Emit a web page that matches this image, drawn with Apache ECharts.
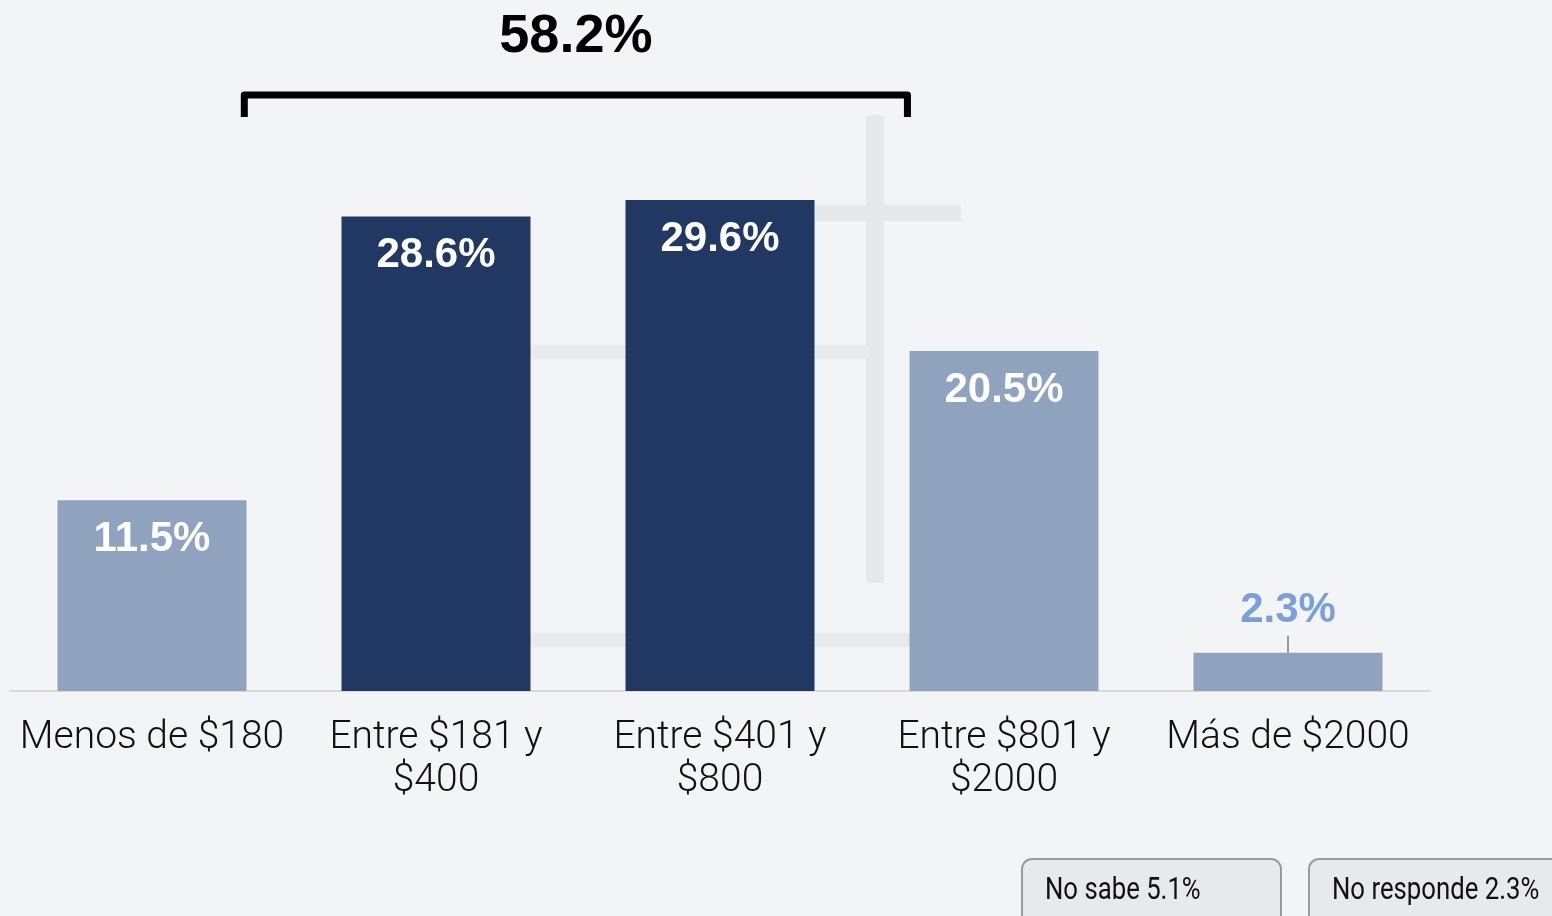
<!DOCTYPE html>
<html lang="es">
<head>
  <meta charset="UTF-8">
  <title>Ingresos</title>
  <style>
    html, body { margin: 0; padding: 0; background: #f3f4f6; }
    #main { width: 1552px; height: 916px; }
  </style>
</head>
<body>
  <div id="main"></div>
  <script src="https://cdn.jsdelivr.net/npm/echarts@6/dist/echarts.min.js"></script>
  <script>
    // datos
    var categories = ['Menos de $180', 'Entre $181 y\n$400', 'Entre $401 y\n$800', 'Entre $801 y\n$2000', 'Más de $2000'];
    var values = [11.5, 28.6, 29.6, 20.5, 2.3];
    var highlighted = [false, true, true, false, false];
    var groupTotal = 58.2;
    var otherLabels = ['No sabe', 'No responde'];
    var otherValues = [5.1, 2.3];

    var dark = '#213863';
    var light = '#8fa3bf';
    var boldFont = '"Liberation Sans", sans-serif';
    var thinFont = 'Roboto, "Noto Sans", sans-serif';

    var chart = echarts.init(document.getElementById('main'));

    var barData = values.map(function (v, i) {
      var small = v < 5;
      return {
        value: v,
        itemStyle: { color: highlighted[i] ? dark : light },
        label: small ? {
          position: 'top', distance: 21, color: '#7b9fd8'
        } : {
          position: 'insideTop', distance: 18, color: '#fff'
        }
      };
    });

    chart.setOption({
      backgroundColor: '#f3f4f6',
      animation: false,
      grid: { left: 10, right: 122, top: 200, bottom: 225 },
      xAxis: {
        type: 'category',
        data: categories,
        axisLine: { lineStyle: { color: '#d9d9d9', width: 2 } },
        axisTick: { show: false },
        axisLabel: {
          color: '#111', fontFamily: thinFont, fontWeight: 300,
          fontSize: 39, lineHeight: 43, margin: 26, interval: 0
        }
      },
      yAxis: { type: 'value', min: 0, max: 29.6, show: false, splitLine: { show: false } },
      series: [{
        type: 'bar',
        barWidth: 189,
        data: barData,
        label: {
          show: true,
          fontFamily: boldFont, fontWeight: 'bold', fontSize: 42,
          formatter: function (p) { return p.value.toFixed(1) + '%'; }
        }
      }]
    });

    // anotaciones: corchete, total y cajas inferiores
    function drawExtras() {
      var band = chart.convertToPixel({ xAxisIndex: 0 }, categories[1]) - chart.convertToPixel({ xAxisIndex: 0 }, categories[0]);
      var hl = [];
      highlighted.forEach(function (h, i) { if (h) hl.push(i); });
      var x1 = chart.convertToPixel({ xAxisIndex: 0 }, categories[hl[0]]) - band * 0.675;
      var x2 = chart.convertToPixel({ xAxisIndex: 0 }, categories[hl[hl.length - 1]]) + band * 0.66;
      var smallIdx = values.indexOf(Math.min.apply(null, values));
      var sp = chart.convertToPixel({ seriesIndex: 0 }, [smallIdx, values[smallIdx]]);

      var elements = [
        // marca de agua tenue
        { type: 'rect', z: -10, shape: { x: 866, y: 115, width: 18, height: 468, r: 3 }, style: { fill: '#e7e8ea' } },
        { type: 'rect', z: -10, shape: { x: 815, y: 205, width: 146, height: 16 }, style: { fill: '#e7e8ea' } },
        { type: 'rect', z: -10, shape: { x: 530, y: 345, width: 340, height: 14 }, style: { fill: '#e9eaec' } },
        { type: 'rect', z: -10, shape: { x: 530, y: 633, width: 380, height: 14 }, style: { fill: '#e9eaec' } },
        {
          type: 'polyline',
          shape: { points: [[x1, 117], [x1, 95], [x2, 95], [x2, 117]] },
          style: { stroke: '#000', lineWidth: 7, fill: null, lineJoin: 'round' }
        },
        {
          type: 'text',
          x: (x1 + x2) / 2, y: 37,
          style: {
            text: groupTotal.toFixed(1) + '%', fill: '#000',
            font: 'bold 54px ' + boldFont, align: 'center', verticalAlign: 'middle'
          }
        },
        {
          type: 'line',
          shape: { x1: sp[0], y1: sp[1] - 17, x2: sp[0], y2: sp[1] },
          style: { stroke: '#999', lineWidth: 2 }
        }
      ];

      var boxX = [1022, 1309];
      otherLabels.forEach(function (lab, i) {
        elements.push({
          type: 'rect',
          shape: { x: boxX[i], y: 859, width: 259, height: 80, r: 10 },
          style: { fill: '#e8e9eb', stroke: '#9a9a9a', lineWidth: 2 }
        });
        elements.push({
          type: 'text',
          x: boxX[i] + 23, y: 891, scaleX: 0.83,
          style: {
            text: lab + ' ' + otherValues[i].toFixed(1) + '%', fill: '#111',
            font: '31px ' + thinFont, verticalAlign: 'middle'
          }
        });
      });

      chart.setOption({ graphic: { elements: elements } });
    }
    drawExtras();
  </script>
</body>
</html>
